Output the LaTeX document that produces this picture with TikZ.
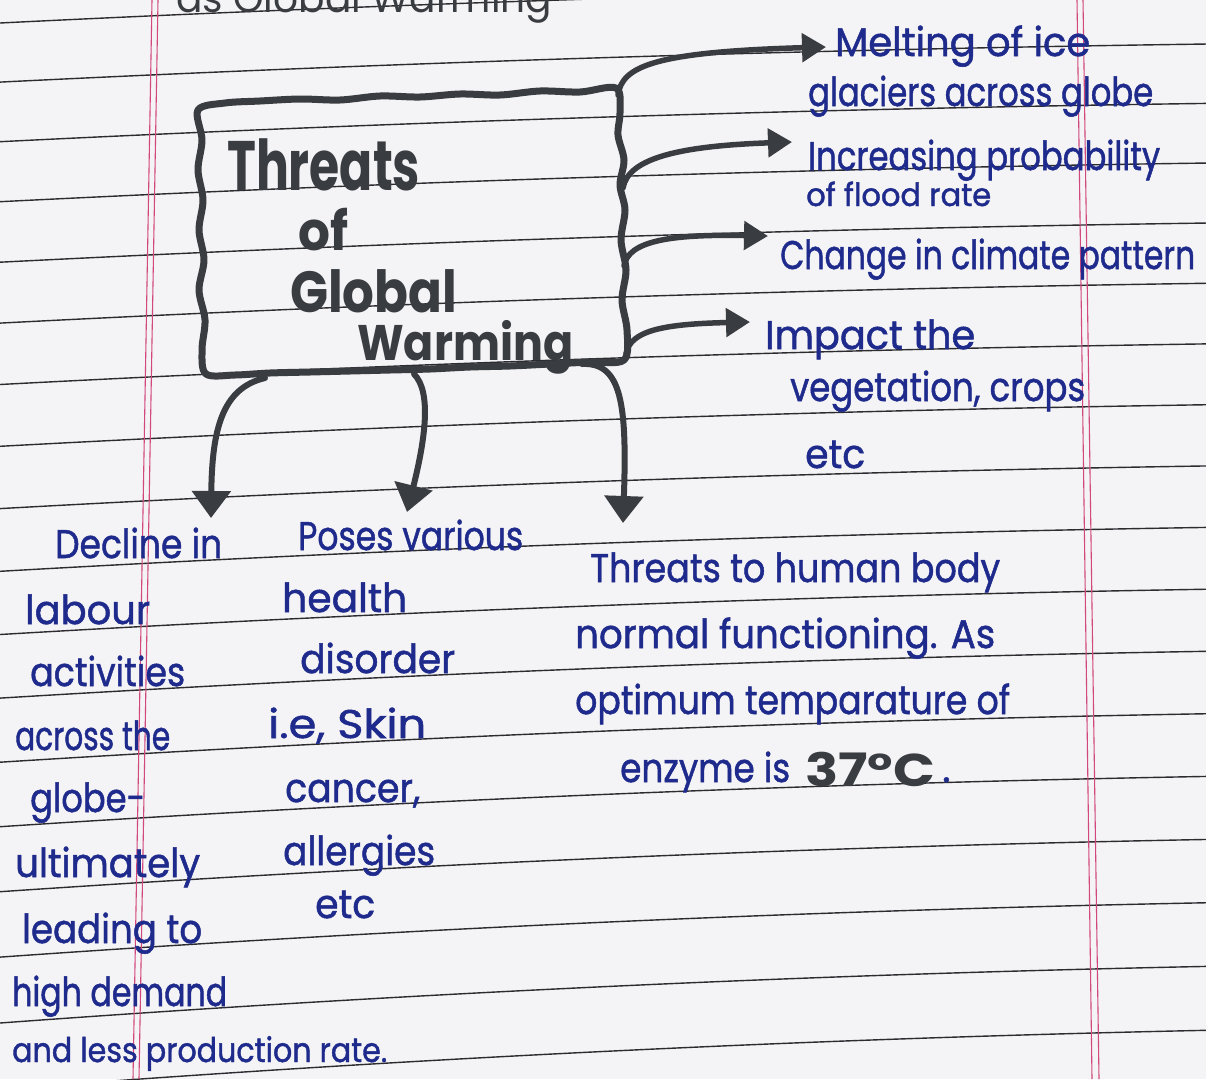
\documentclass[tikz,border=0pt]{standalone}
\usepackage{fontspec}
\usepackage{graphicx}
\setmainfont{Poppins}
\newfontfamily\hand[FakeBold=1.3]{Poppins}
\usetikzlibrary{arrows.meta}
\definecolor{paper}{HTML}{F4F3F5}
\definecolor{ruleink}{HTML}{2B2B30}
\definecolor{margin}{HTML}{D2487C}
\definecolor{inkblue}{HTML}{1E2B8C}
\definecolor{boxink}{HTML}{393D42}
\newcommand\fitw[2]{\resizebox{#1pt}{\height}{#2}}
\begin{document}
\begin{tikzpicture}[x=1pt,y=-1pt,
  rule/.style={draw=ruleink,line width=1.4pt},
  redline/.style={draw=margin,line width=1.1pt},
  bl/.style={anchor=base west,inner sep=0pt,text=inkblue,font=\hand\fontsize{40}{44}\selectfont},
  ttl/.style={anchor=base west,inner sep=0pt,text=boxink,font=\bfseries\fontsize{70}{74}\selectfont},
  boxline/.style={draw=boxink,line width=7pt,line join=round},
  arr/.style={draw=boxink,line width=6pt,line cap=round,-{Triangle[length=27pt,width=38pt]}},
  arrs/.style={draw=boxink,line width=5.5pt,line cap=round,-{Triangle[length=24pt,width=28pt]}}]
\useasboundingbox (0,0) rectangle (1206,1079);
\fill[paper] (0,0) rectangle (1206,1079);
% ruled lines
\foreach \Y [count=\k from 0] in {23,82.1,141.7,201.7,262.2,323.1,384.5,446.3,508.6,571.3,634.5,698.1,762.2,826.7,891.7,957.1,1023,1089.3}{
  \pgfmathsetmacro\s{(38+21*(\k/17)^2)/38.5}
  \draw[rule] (0,\Y) .. controls (402,\Y-20.1*\s) and (804,\Y-32.9*\s) .. (1206,\Y-38.5*\s);
}
% margins
\draw[redline] (152,0) -- (133,1079);
\draw[redline] (158,0) -- (139,1079);
\draw[redline] (1077,0) -- (1092,1079);
\draw[redline] (1083,0) -- (1099,1079);
% cut-off heading
\node[anchor=base west,inner sep=0pt,text=boxink,font=\fontsize{40}{44}\selectfont] (head) at (176,12) {\fitw{376}{as Global Warming}};
% box
\draw[boxline] plot[smooth cycle,tension=0.55] coordinates {
 (198,110) (225,103) (260,101) (300,99) (340,100) (380,96) (420,97) (460,94) (500,95) (540,91) (580,92) (616,88)
 (620,112) (618,135) (624,160) (620,185) (625,210) (621,240) (626,270) (622,300) (627,330) (624,360)
 (590,362) (550,364) (510,366) (470,367) (430,369) (390,370) (350,371) (310,372) (270,373) (235,375) (206,374)
 (202,350) (205,320) (199,290) (204,260) (199,230) (203,200) (198,170) (202,140)};
% title
\node[ttl] (t1) at (227,190) {\fitw{193}{Threats}};
\node[ttl,font=\bfseries\fontsize{54}{58}\selectfont] (t2) at (298,250) {\fitw{50}{of}};
\node[ttl,font=\bfseries\fontsize{58}{62}\selectfont] (t3) at (290,312) {\fitw{167}{Global}};
\node[ttl,font=\bfseries\fontsize{50}{54}\selectfont] (t4) at (357,360) {\fitw{216}{Warming}};
% right texts
\node[bl] (r1) at (835,56) {\fitw{255}{Melting of ice}};
\node[bl] (r2) at (808,106) {\fitw{345}{glaciers across globe}};
\node[bl] (r3) at (808,170) {\fitw{352}{Increasing probability}};
\node[bl,font=\hand\fontsize{32}{36}\selectfont] (r4) at (806,206) {\fitw{185}{of flood rate}};
\node[bl] (r5) at (780,269) {\fitw{415}{Change in climate pattern}};
\node[bl] (r6) at (765,349) {\fitw{210}{Impact the}};
\node[bl] (r7) at (790,401) {\fitw{295}{vegetation, crops}};
\node[bl] (r8) at (805,468) {\fitw{60}{etc}};
% left column
\node[bl] (l1) at (55,558) {\fitw{167}{Decline in}};
\node[bl] (l2) at (25,624) {\fitw{125}{labour}};
\node[bl] (l3) at (30,686) {\fitw{155}{activities}};
\node[bl] (l4) at (15,750) {\fitw{155}{across the}};
\node[bl] (l5) at (30,812) {\fitw{115}{globe-}};
\node[bl] (l6) at (15,877) {\fitw{185}{ultimately}};
\node[bl] (l7) at (22,943) {\fitw{180}{leading to}};
\node[bl] (l8) at (12,1006) {\fitw{215}{high demand}};
\node[bl,font=\hand\fontsize{34}{38}\selectfont] (l9) at (12,1062) {\fitw{375}{and less production rate.}};
% middle column
\node[bl] (m1) at (298,550) {\fitw{225}{Poses various}};
\node[bl] (m2) at (282,612) {\fitw{125}{health}};
\node[bl] (m3) at (300,673) {\fitw{155}{disorder}};
\node[bl] (m4) at (268,738) {\fitw{158}{i.e, Skin}};
\node[bl] (m5) at (285,802) {\fitw{135}{cancer,}};
\node[bl] (m6) at (283,865) {\fitw{152}{allergies}};
\node[bl] (m7) at (315,918) {\fitw{60}{etc}};
% right bottom
\node[bl] (b1) at (590,582) {\fitw{410}{Threats to human body}};
\node[bl] (b2) at (575,648) {\fitw{420}{normal functioning. As}};
\node[bl] (b3) at (575,714) {\fitw{435}{optimum temparature of}};
\node[bl] (b4) at (620,782) {\fitw{170}{enzyme is}};
\node[anchor=base west,inner sep=0pt,text=boxink,font=\bfseries\fontsize{46}{50}\selectfont] (b5) at (805,786) {\fitw{130}{37°C}};
\node[bl] (b6) at (942,782) {.};
% connector coordinates
\coordinate (s1) at (618,95);   \coordinate (e1) at (826,47);
\coordinate (s2) at (623,188);  \coordinate (e2) at (792,142);
\coordinate (s3) at (624,266);  \coordinate (e3) at (768,236);
\coordinate (s4) at (626,354);  \coordinate (e4) at (750,322);
\coordinate (d1) at (265,378);  \coordinate (f1) at (211,518);
\coordinate (d2) at (414,374);  \coordinate (f2) at (407,512);
\coordinate (d3) at (582,364);  \coordinate (f3) at (623,523);
% side arrows
\draw[arrs] (s1) .. controls (622,66) and (655,52) .. (e1);
\draw[arrs] (s2) .. controls (628,158) and (680,146) .. (e2);
\draw[arrs] (s3) .. controls (628,241) and (670,234) .. (e3);
\draw[arrs] (s4) .. controls (630,330) and (665,324) .. (e4);
% bottom arrows
\draw[arr] (d1) .. controls (222,388) and (212,430) .. (f1);
\draw[arr] (d2) .. controls (432,392) and (425,440) .. (f2);
\draw[arr] (d3) .. controls (622,362) and (627,405) .. (f3);
\end{tikzpicture}
\end{document}
